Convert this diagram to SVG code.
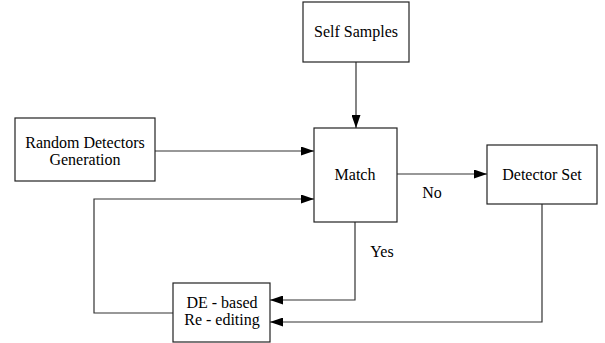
<svg xmlns="http://www.w3.org/2000/svg" width="605" height="343" viewBox="0 0 605 343">
<defs>
<marker id="arr" markerWidth="13" markerHeight="9" refX="13" refY="4.5" orient="auto" markerUnits="userSpaceOnUse">
<path d="M0,0 L13,4.5 L0,9 Z" fill="#000"/>
</marker>
</defs>
<rect width="605" height="343" fill="#fff"/>
<g id="connectors" fill="none" stroke="#333" stroke-width="1.2">
<path d="M356,62 V128" marker-end="url(#arr)"/>
<path d="M155,151 H314" marker-end="url(#arr)"/>
<path d="M173,313 H94 V199 H314" marker-end="url(#arr)"/>
<path d="M397,174 H487" marker-end="url(#arr)"/>
<path d="M355,222 V300 H270" marker-end="url(#arr)"/>
<path d="M542,204 V322 H270" marker-end="url(#arr)"/>
</g>
<g fill="#fff" stroke="#222" stroke-width="1.2">
<rect id="box-self" x="303" y="2" width="106" height="60"/>
<rect id="box-random" x="15" y="118" width="140" height="63"/>
<rect id="box-match" x="314" y="128" width="83" height="94"/>
<rect id="box-detset" x="487" y="145" width="110" height="59"/>
<rect id="box-de" x="173" y="283" width="97" height="59"/>
</g>
<g id="self-samples">
<text x="356" y="37" font-family="Liberation Serif" font-size="16" text-anchor="middle">Self Samples</text>
</g>
<g id="random-detectors">
<text x="85" y="148" font-family="Liberation Serif" font-size="16" text-anchor="middle">Random Detectors</text>
<text x="85" y="165" font-family="Liberation Serif" font-size="16" text-anchor="middle">Generation</text>
</g>
<g id="match">
<text x="355" y="180" font-family="Liberation Serif" font-size="16" text-anchor="middle">Match</text>
</g>
<g id="detector-set">
<text x="542" y="180" font-family="Liberation Serif" font-size="16" text-anchor="middle">Detector Set</text>
</g>
<g id="de-reediting">
<text x="222" y="308" font-family="Liberation Serif" font-size="16" text-anchor="middle">DE - based</text>
<text x="222" y="325" font-family="Liberation Serif" font-size="16" text-anchor="middle">Re - editing</text>
</g>
<g id="labels">
<text x="432" y="198" font-family="Liberation Serif" font-size="16" text-anchor="middle">No</text>
<text x="382" y="257" font-family="Liberation Serif" font-size="16" text-anchor="middle">Yes</text>
</g>
</svg>
